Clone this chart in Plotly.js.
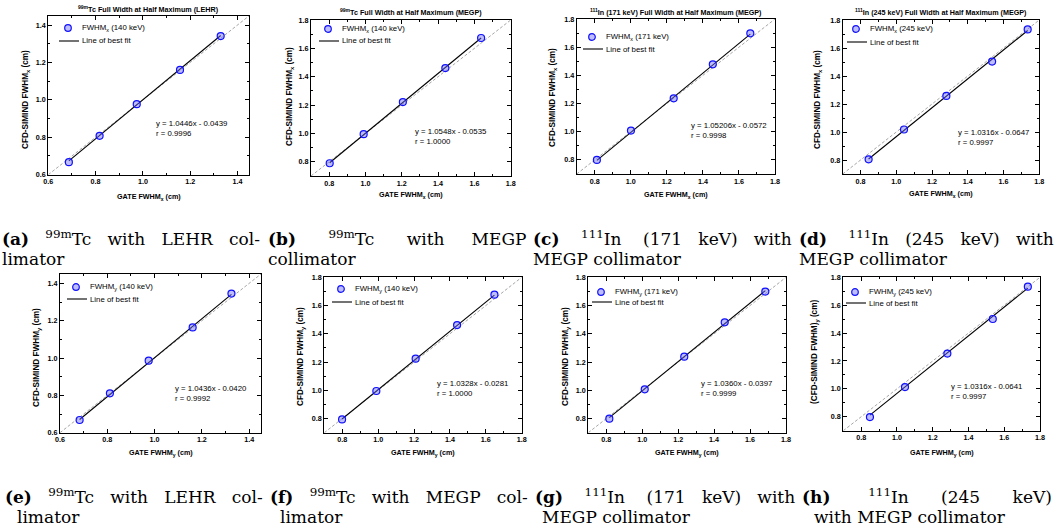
<!DOCTYPE html>
<html>
<head>
<meta charset="utf-8">
<script src="https://cdn.plot.ly/plotly-3.0.1.min.js"></script>
<style>
html,body{margin:0;padding:0;background:#fff;}
#chart{width:1059px;height:527px;}
</style>
</head>
<body>
<div id="chart"></div>
<script>
// ---------- data ----------
const gateA = [0.687, 0.817, 0.974, 1.157, 1.329];
const simA  = [0.667, 0.808, 0.977, 1.160, 1.341];
const gateB = [0.803, 0.990, 1.206, 1.440, 1.637];
const simB  = [0.790, 0.995, 1.221, 1.461, 1.673];
const gateC = [0.812, 1.001, 1.238, 1.455, 1.663];
const simC  = [0.800, 1.008, 1.237, 1.478, 1.698];
const gateD = [0.845, 1.043, 1.280, 1.536, 1.735];
const simD  = [0.805, 1.018, 1.258, 1.503, 1.733];
const gateE = [0.683, 0.811, 0.975, 1.161, 1.325];
const simE  = [0.668, 0.811, 0.986, 1.164, 1.345];
const gateF = [0.799, 0.990, 1.209, 1.440, 1.648];
const simF  = [0.794, 0.995, 1.224, 1.462, 1.677];
const gateG = [0.817, 1.014, 1.234, 1.459, 1.685];
const simG  = [0.799, 1.007, 1.238, 1.481, 1.699];
const gateH = [0.849, 1.045, 1.282, 1.536, 1.732];
const simH  = [0.798, 1.013, 1.253, 1.501, 1.733];

const slopes     = [1.0446, 1.0548, 1.05206, 1.0316, 1.0436, 1.0328, 1.0360, 1.0316];
const intercepts = [-0.0439, -0.0535, -0.0572, -0.0647, -0.0420, -0.0281, -0.0397, -0.0641];
const slopeText  = ["1.0446", "1.0548", "1.05206", "1.0316", "1.0436", "1.0328", "1.0360", "1.0316"];
const interText  = ["0.0439", "0.0535", "0.0572", "0.0647", "0.0420", "0.0281", "0.0397", "0.0641"];
const rValues    = ["0.9996", "1.0000", "0.9998", "0.9997", "0.9992", "1.0000", "0.9999", "0.9997"];
const legendLabels = [
  "FWHM<sub>x</sub> (140 keV)", "FWHM<sub>x</sub> (140 keV)", "FWHM<sub>x</sub> (171 keV)", "FWHM<sub>x</sub> (245 keV)",
  "FWHM<sub>y</sub> (140 keV)", "FWHM<sub>y</sub> (140 keV)", "FWHM<sub>y</sub> (171 keV)", "FWHM<sub>y</sub> (245 keV)"
];
const fitLabel = "Line of best fit";
const plotTitles = [
  "<sup>99m</sup>Tc Full Width at Half Maximum (LEHR)",
  "<sup>99m</sup>Tc Full Width at Half Maximum (MEGP)",
  "<sup>111</sup>In (171 keV) Full Width at Half Maximum (MEGP)",
  "<sup>111</sup>In (245 keV) Full Width at Half Maximum (MEGP)",
  "", "", "", ""
];
const xTitles = [
  "GATE FWHM<sub>x</sub> (cm)", "GATE FWHM<sub>x</sub> (cm)", "GATE FWHM<sub>x</sub> (cm)", "GATE FWHM<sub>x</sub> (cm)",
  "GATE FWHM<sub>y</sub> (cm)", "GATE FWHM<sub>y</sub> (cm)", "GATE FWHM<sub>y</sub> (cm)", "GATE FWHM<sub>y</sub> (cm)"
];
const yTitles = [
  "CFD-SIMIND FWHM<sub>x</sub> (cm)", "CFD-SIMIND FWHM<sub>x</sub> (cm)", "CFD-SIMIND FWHM<sub>x</sub> (cm)", "CFD-SIMIND FWHM<sub>x</sub> (cm)",
  "CFD-SIMIND FWHM<sub>y</sub> (cm)", "CFD-SIMIND FWHM<sub>y</sub> (cm)", "CFD-SIMIND FWHM<sub>y</sub> (cm)", "(CFD-SIMIND FWHM)<sub>y</sub> (cm)"
];
const axisRanges = [[0.6, 1.45], [0.7, 1.8], [0.7, 1.8], [0.7, 1.8], [0.6, 1.45], [0.7, 1.8], [0.7, 1.8], [0.7, 1.8]];
// caption words of the first (justified) line and the second line
const captionLabels = ["(a)", "(b)", "(c)", "(d)", "(e)", "(f)", "(g)", "(h)"];
const captionWords1 = [
  ["<sup>99m</sup>Tc", "with", "LEHR", "col-"],
  ["<sup>99m</sup>Tc", "with", "MEGP"],
  ["<sup>111</sup>In", "(171", "keV)", "with"],
  ["<sup>111</sup>In", "(245", "keV)", "with"],
  ["<sup>99m</sup>Tc", "with", "LEHR", "col-"],
  ["<sup>99m</sup>Tc", "with", "MEGP", "col-"],
  ["<sup>111</sup>In", "(171", "keV)", "with"],
  ["<sup>111</sup>In", "(245", "keV)"]
];
const captionLine2 = ["limator", "collimator", "MEGP collimator", "MEGP collimator",
                      "limator", "limator", "MEGP collimator", "with MEGP collimator"];

// ---------- layout geometry (pixels) ----------
const W = 1059, H = 527;
const boxes = [ // left, right, top, bottom
  [48.3, 249.3, 15.7, 174.7], [311, 510.7, 20, 176], [576.7, 775, 19, 174], [842.7, 1039.3, 20, 174],
  [60, 261, 274, 432.7], [324.3, 521.7, 277.3, 432.7], [588.3, 786, 277.3, 432.7], [843.3, 1040, 277.3, 430.7]
];
const legendPos = [[68, 28, 41], [328, 29, 41], [592, 37, 49], [856, 29, 42], [76, 287, 299], [341, 289, 302], [601, 292, 302], [855, 292, 303]];
const eqPos = [[154, 128], [413, 136], [689, 130], [956, 137], [173, 393], [435, 388], [699, 388], [949, 391]];
const xTitlePos = [197, 195, 195, 194, 453, 453, 453, 453];
const yTitlePos = [[26, 100], [290, 97], [553, 98], [818, 100], [37, 358], [301, 357], [566, 357], [815, 352]];
const titleY = [9, 12, 12, 12];
const capX1 = [0, 266, 531, 797, 3, 268, 533, 800];
const capX2 = [0, 266, 531, 797, 15, 278, 540, 812];
const gapExtra = [[2, 2, 2, 2], [5, 5, 4], [3, 3, 2, 2], [3, 2, 2, 2], [2, 2, 2, 2], [2, 2, 2, 2], [3, 3, 2, 2], [6, 5, 5]];

const gates = [gateA, gateB, gateC, gateD, gateE, gateF, gateG, gateH];
const sims  = [simA, simB, simC, simD, simE, simF, simG, simH];

const SANS = "Liberation Sans, Arial, sans-serif";
const SERIF = "DejaVu Serif, Liberation Serif, serif";
const CAP_SIZE = 17;
const MARKER_FILL = "rgba(110,110,255,0.45)", MARKER_LINE = "#1010ff";

const traces = [];
const layout = {
  width: W, height: H,
  margin: {l: 0, r: 0, t: 0, b: 0},
  paper_bgcolor: "#fff", plot_bgcolor: "#fff",
  showlegend: false,
  annotations: [], shapes: [],
  font: {family: SANS, color: "#000"}
};
const px = v => v / W, py = v => 1 - v / H;

for (let i = 0; i < 8; i++) {
  const n = i + 1;
  const xa = "x" + (n === 1 ? "" : n), ya = "y" + (n === 1 ? "" : n);
  const xk = "xaxis" + (n === 1 ? "" : n), yk = "yaxis" + (n === 1 ? "" : n);
  const [l, r, t, b] = boxes[i];
  const rng = axisRanges[i];

  const axisCommon = {
    range: rng.slice(), showline: true, linecolor: "#000", linewidth: 1, mirror: "ticks",
    ticks: "inside", ticklen: 4, tickwidth: 1, tickcolor: "#000",
    tick0: 0.6, dtick: 0.2, tickformat: ".1f",
    tickfont: {family: SANS, size: 7.2, color: "#000", weight: "bold"},
    minor: {ticks: "inside", ticklen: 2, tickwidth: 1, tickcolor: "#000", tick0: 0.6, dtick: 0.1},
    showgrid: false, zeroline: false, fixedrange: true
  };
  layout[xk] = Object.assign({}, axisCommon, {domain: [px(l), px(r)], anchor: ya});
  layout[yk] = Object.assign({}, axisCommon, {domain: [py(b), py(t)], anchor: xa});

  // identity (y = x) dashed line across the axes
  traces.push({
    x: rng, y: rng, xaxis: xa, yaxis: ya, mode: "lines", hoverinfo: "skip",
    line: {color: "#8f8f8f", width: 0.8, dash: "3px,2px"}
  });
  // line of best fit
  const gx = gates[i];
  const x0 = Math.min(...gx), x1 = Math.max(...gx);
  traces.push({
    x: [x0, x1], y: [slopes[i] * x0 + intercepts[i], slopes[i] * x1 + intercepts[i]],
    xaxis: xa, yaxis: ya, mode: "lines", name: fitLabel,
    line: {color: "#000", width: 1.1}
  });
  // data points
  traces.push({
    x: gx, y: sims[i], xaxis: xa, yaxis: ya, mode: "markers", name: legendLabels[i],
    marker: {symbol: "circle", size: 7, color: MARKER_FILL, line: {color: MARKER_LINE, width: 1.2}}
  });

  // legend key inside the plot
  const [mx, my, my2] = legendPos[i];
  const tx = mx + 11;
  layout.shapes.push({type: "circle", xref: "paper", yref: "paper",
    x0: px(mx - 3.3), x1: px(mx + 3.3), y0: py(my + 3.3), y1: py(my - 3.3),
    fillcolor: MARKER_FILL, line: {color: MARKER_LINE, width: 1.2}});
  layout.shapes.push({type: "line", xref: "paper", yref: "paper",
    x0: px(tx - 20), x1: px(tx), y0: py(my2), y1: py(my2), line: {color: "#000", width: 1.1}});
  layout.annotations.push({xref: "paper", yref: "paper", x: px(tx + 0.5), y: py(my),
    xanchor: "left", yanchor: "middle", showarrow: false, text: legendLabels[i],
    font: {family: SANS, size: 7.8, color: "#000"}});
  layout.annotations.push({xref: "paper", yref: "paper", x: px(tx + 0.5), y: py(my2),
    xanchor: "left", yanchor: "middle", showarrow: false, text: fitLabel,
    font: {family: SANS, size: 7.8, color: "#000"}});

  // equation text
  layout.annotations.push({
    xref: "paper", yref: "paper", x: px(eqPos[i][0]), y: py(eqPos[i][1]),
    xanchor: "left", yanchor: "middle", align: "left", showarrow: false,
    text: "y = " + slopeText[i] + "x - " + interText[i] + "<br>r = " + rValues[i],
    font: {family: SANS, size: 7.8, color: "#000"}
  });
  // axis titles
  layout.annotations.push({
    xref: "paper", yref: "paper", x: px((l + r) / 2), y: py(xTitlePos[i]),
    xanchor: "center", yanchor: "middle", showarrow: false, text: xTitles[i],
    font: {family: SANS, size: 7.2, color: "#000", weight: "bold"}
  });
  layout.annotations.push({
    xref: "paper", yref: "paper", x: px(yTitlePos[i][0]), y: py(yTitlePos[i][1]),
    xanchor: "center", yanchor: "middle", showarrow: false, textangle: -90, text: yTitles[i],
    font: {family: SANS, size: 8.2, color: "#000", weight: "bold"}
  });
  // plot title
  if (plotTitles[i]) {
    layout.annotations.push({
      xref: "paper", yref: "paper", x: px((l + r) / 2), y: py(titleY[i]),
      xanchor: "center", yanchor: "middle", showarrow: false, text: plotTitles[i],
      font: {family: SANS, size: 7.2, color: "#000", weight: "bold"}
    });
  }
  // captions (first line justified with extra spaces)
  let line1 = "<b>" + captionLabels[i] + "</b>";
  captionWords1[i].forEach((w, k) => { line1 += " " + "\u00a0".repeat(gapExtra[i][k]) + w; });
  const top = i < 4;
  layout.annotations.push({
    xref: "paper", yref: "paper", x: px(capX1[i]), y: py(top ? 237.5 : 495.5),
    xanchor: "left", yanchor: "middle", showarrow: false, text: line1,
    font: {family: SERIF, size: CAP_SIZE, color: "#000"}
  });
  layout.annotations.push({
    xref: "paper", yref: "paper", x: px(capX2[i]), y: py(top ? 259 : 516.5),
    xanchor: "left", yanchor: "middle", showarrow: false, text: captionLine2[i],
    font: {family: SERIF, size: CAP_SIZE, color: "#000"}
  });
}
traces.forEach(tr => tr.showlegend = false);

Plotly.newPlot("chart", traces, layout, {staticPlot: true, displayModeBar: false});
</script>
</body>
</html>
